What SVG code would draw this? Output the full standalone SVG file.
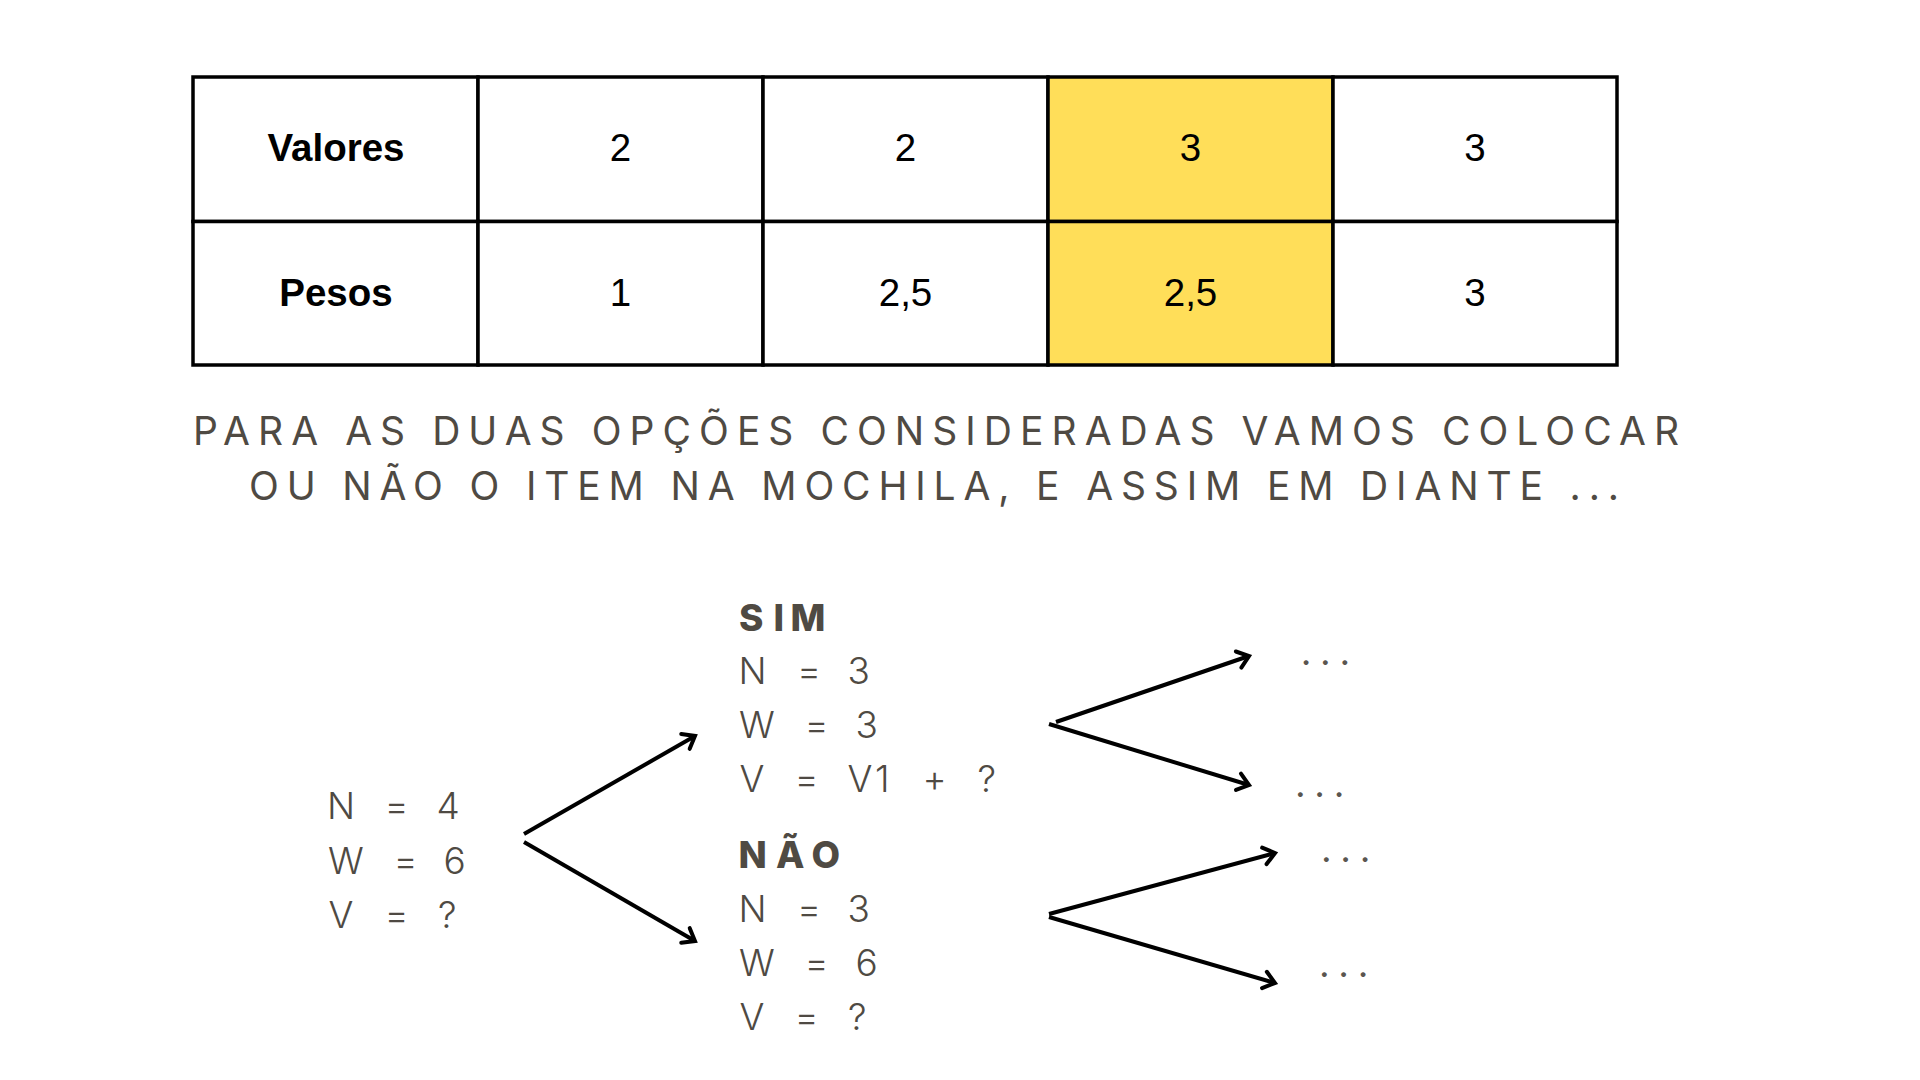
<svg xmlns="http://www.w3.org/2000/svg" width="1920" height="1080" viewBox="0 0 1920 1080">
<defs>
<style>
.cell{fill:#ffffff;stroke:#000000;stroke-width:3.5}
.hl{fill:#ffde59;stroke:#000000;stroke-width:3.5}
.th{font-family:"Liberation Sans",Arial,sans-serif;font-weight:bold;font-size:38.5px;fill:#000000;text-anchor:middle}
.td{font-family:"Liberation Sans",Arial,sans-serif;font-size:38.5px;fill:#000000;text-anchor:middle}
.sub{font-family:Inter,"Open Sans",sans-serif;font-size:39px;fill:#4f4a43}
.t{font-family:Inter,"Open Sans",sans-serif;font-size:37px;font-weight:300;fill:#4f4a43}
.tb{font-family:Inter,"Open Sans",sans-serif;font-size:37px;font-weight:800;fill:#4f4a43}
.dots{font-family:Inter,"Open Sans",sans-serif;font-size:37px;fill:#5a5650;letter-spacing:8.7px}
.arr{stroke:#000000;stroke-width:4;fill:none;marker-end:url(#ah)}
</style>
<marker id="ah" markerUnits="userSpaceOnUse" markerWidth="30" markerHeight="30" viewBox="-15 -15 30 30" refX="0" refY="0" orient="auto">
<path d="M -11 -8.5 L 0 0 L -11 8.5" fill="none" stroke="#000000" stroke-width="4" stroke-linecap="round" stroke-linejoin="miter"/>
</marker>
</defs>
<rect width="1920" height="1080" fill="#ffffff"/>

<g id="table">
<rect class="cell" x="193" y="77" width="285" height="144.5"/>
<rect class="cell" x="478" y="77" width="285" height="144.5"/>
<rect class="cell" x="763" y="77" width="285" height="144.5"/>
<rect class="hl" x="1048" y="77" width="285" height="144.5"/>
<rect class="cell" x="1333" y="77" width="284" height="144.5"/>
<rect class="cell" x="193" y="221.5" width="285" height="143.5"/>
<rect class="cell" x="478" y="221.5" width="285" height="143.5"/>
<rect class="cell" x="763" y="221.5" width="285" height="143.5"/>
<rect class="hl" x="1048" y="221.5" width="285" height="143.5"/>
<rect class="cell" x="1333" y="221.5" width="284" height="143.5"/>
<text class="th" x="336" y="160.5">Valores</text>
<text class="td" x="620.5" y="160.5">2</text>
<text class="td" x="905.5" y="160.5">2</text>
<text class="td" x="1190.5" y="160.5">3</text>
<text class="td" x="1475" y="160.5">3</text>
<text class="th" x="336" y="306">Pesos</text>
<text class="td" x="620.5" y="306">1</text>
<text class="td" x="905.5" y="306">2,5</text>
<text class="td" x="1190.5" y="306">2,5</text>
<text class="td" x="1475" y="306">3</text>
</g>

<g id="subtitle">
<text class="sub" x="193" y="444.5" textLength="1486" lengthAdjust="spacing">PARA AS DUAS OPÇÕES CONSIDERADAS VAMOS COLOCAR</text>
<text class="sub" x="249" y="499.5" textLength="1370" lengthAdjust="spacing">OU NÃO O ITEM NA MOCHILA, E ASSIM EM DIANTE ...</text>
</g>

<g id="node-root">
<text class="t" y="819"><tspan x="327">N</tspan> <tspan x="384.5">=</tspan> <tspan x="436.5">4</tspan></text>
<text class="t" y="874"><tspan x="328">W</tspan> <tspan x="393.5">=</tspan> <tspan x="443.5">6</tspan></text>
<text class="t" y="928"><tspan x="328.5">V</tspan> <tspan x="384.5">=</tspan> <tspan x="438">?</tspan></text>
</g>

<g id="node-sim">
<text class="tb" y="631"><tspan x="739">S</tspan><tspan x="773.5">I</tspan><tspan x="790.5">M</tspan></text>
<text class="t" y="684"><tspan x="738.5">N</tspan> <tspan x="797">=</tspan> <tspan x="847.5">3</tspan></text>
<text class="t" y="738"><tspan x="739">W</tspan> <tspan x="804.5">=</tspan> <tspan x="855.5">3</tspan></text>
<text class="t" y="792"><tspan x="739.5">V</tspan> <tspan x="794.5">=</tspan> <tspan x="847.5">V</tspan><tspan x="875">1</tspan> <tspan x="922.5">+</tspan> <tspan x="977.5">?</tspan></text>
</g>

<g id="node-nao">
<text class="tb" y="868"><tspan x="738.5">N</tspan><tspan x="776">Ã</tspan><tspan x="811.5">O</tspan></text>
<text class="t" y="922"><tspan x="738.5">N</tspan> <tspan x="797">=</tspan> <tspan x="847.5">3</tspan></text>
<text class="t" y="976"><tspan x="739">W</tspan> <tspan x="804.5">=</tspan> <tspan x="855.5">6</tspan></text>
<text class="t" y="1030"><tspan x="739.5">V</tspan> <tspan x="794.5">=</tspan> <tspan x="848">?</tspan></text>
</g>

<g id="node-dots">
<text class="dots" x="1300.7" y="665">...</text>
<text class="dots" x="1295" y="797">...</text>
<text class="dots" x="1321" y="862">...</text>
<text class="dots" x="1319" y="977">...</text>
</g>

<g id="connectors">
<line class="arr" x1="524" y1="834" x2="695" y2="736"/>
<line class="arr" x1="524" y1="842" x2="695" y2="941"/>
<line class="arr" x1="1056" y1="722" x2="1249" y2="656"/>
<line class="arr" x1="1049" y1="724" x2="1249" y2="785"/>
<line class="arr" x1="1049" y1="914" x2="1275" y2="853"/>
<line class="arr" x1="1049" y1="917" x2="1275" y2="983"/>
</g>
</svg>
